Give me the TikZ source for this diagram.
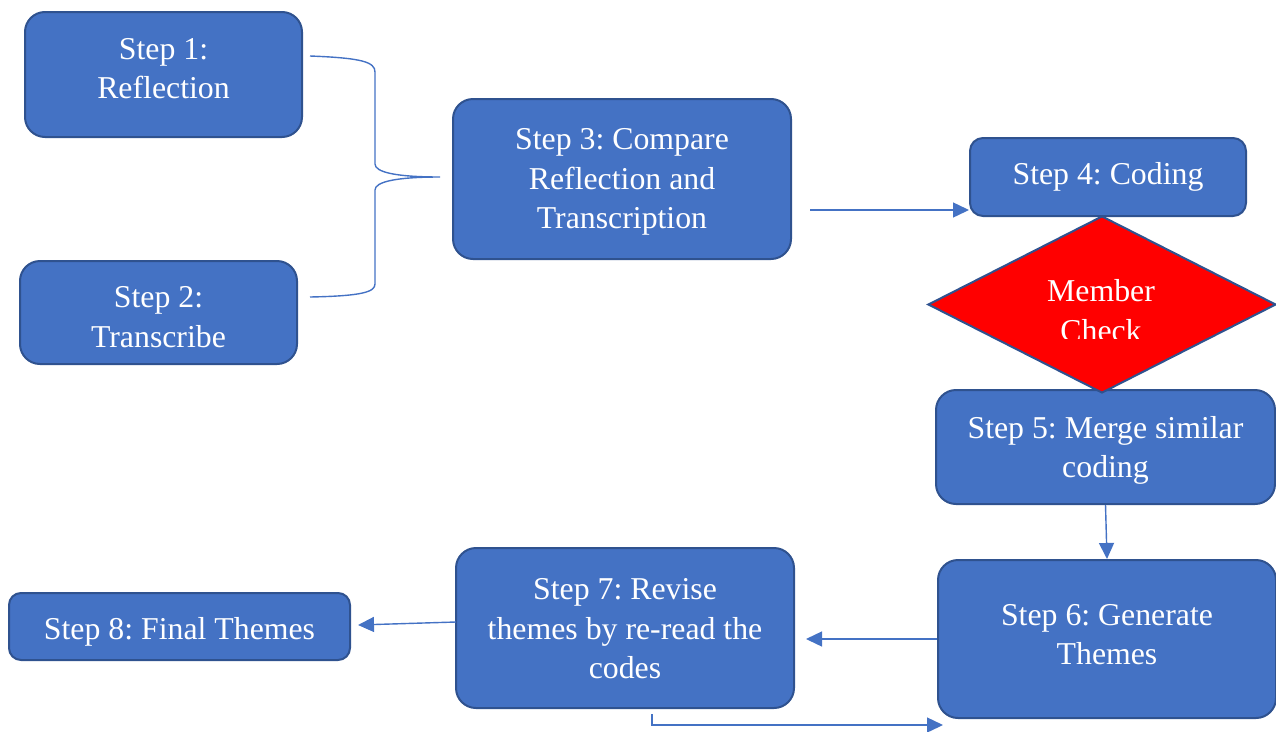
\documentclass[tikz,border=0pt]{standalone}
\usepackage{fontspec}
\setmainfont{Liberation Serif}
\usetikzlibrary{arrows.meta,shapes.geometric}
\definecolor{boxblue}{HTML}{4472C4}
\definecolor{boxedge}{HTML}{2F528F}
\definecolor{linkblue}{HTML}{4472C4}
\tikzset{
  stepbox/.style={draw=boxedge, line width=2pt, fill=boxblue, rounded corners=20pt, inner sep=0pt},
  steptext/.style={text=white, align=center, inner sep=0pt,
    font=\frenchspacing\fontsize{31.8}{39.5}\selectfont},
  checkshape/.style={shape=diamond, draw=boxedge, line width=2pt, fill=red, inner sep=0pt},
  link/.style={draw=linkblue, line width=1.4pt, -{Triangle[length=16pt,width=15pt]}},
  bracket/.style={draw=linkblue, line width=1.4pt},
}
\begin{document}
\begin{tikzpicture}[x=1pt,y=-1pt]
\useasboundingbox (0,0) rectangle (1276,731);

% process steps: box, then its caption
\node[stepbox, minimum width=277pt, minimum height=125pt] (s1) at (163.5,74.5) {};
\node[steptext] (s1t) at ([yshift=6pt]s1.center) {Step 1:\\Reflection};
\node[stepbox, minimum width=277pt, minimum height=103pt] (s2) at (158.5,312.5) {};
\node[steptext] (s2t) at ([yshift=-4.5pt]s2.center) {Step 2:\\Transcribe};
\node[stepbox, minimum width=338pt, minimum height=160pt] (s3) at (622,179) {};
\node[steptext] (s3t) at ([yshift=-3pt]s3.center) {Step 3: Compare\\Reflection and\\Transcription};
\node[stepbox, rounded corners=13pt, minimum width=276pt, minimum height=78pt] (s4) at (1108,177) {};
\node[steptext] (s4t) at (s4.center) {Step 4: Coding};
\node[stepbox, minimum width=339pt, minimum height=114pt] (s5) at (1105.5,447) {};
\node[steptext] (s5t) at ([yshift=-3.5pt]s5.center) {Step 5: Merge similar\\coding};
\node[stepbox, minimum width=338pt, minimum height=158pt] (s6) at (1107,639) {};
\node[steptext] (s6t) at ([yshift=4.5pt]s6.center) {Step 6: Generate\\Themes};
\node[stepbox, minimum width=338pt, minimum height=160pt] (s7) at (625,628) {};
\node[steptext] (s7t) at ([yshift=-1pt]s7.center) {Step 7: Revise\\themes by re-read the\\codes};
\node[stepbox, rounded corners=12pt, minimum width=341pt, minimum height=67pt] (s8) at (179.5,626.5) {};
\node[steptext] (s8t) at ([yshift=-5pt]s8.center) {Step 8: Final Themes};

% member check decision
\node[checkshape, minimum width=348pt, minimum height=177pt] (mc) at (1102,304.5) {};
\begin{scope}
  \clip (930,250) rectangle (1276,338);
  \node[steptext] (mct) at (1101,310.5) {Member\\Check};
\end{scope}

% bracket joining steps 1 and 2 into step 3
\coordinate (b1) at (310,56);
\coordinate (b2) at (310,297);
\coordinate (bm) at (440,177);
\draw[bracket] (b1) .. controls (362,58) and (375,62) .. (375,72)
  -- (375,164) .. controls (375,172) and (395,177) .. (bm)
  .. controls (395,177) and (375,182) .. (375,190)
  -- (375,284) .. controls (375,292) and (362,296) .. (b2);

% connectors
\coordinate (a3) at (810,210);
\draw[link] (a3) -- (a3 -| s4.west);
\draw[link] (s5.south) -- (s6.north);
\coordinate (a6) at (806,639);
\draw[link] (s6.west) -- (a6);
\coordinate (a7s) at (456,622);
\coordinate (a7e) at (358,625);
\draw[link] (a7s) -- (a7e);
\coordinate (r1) at (652,714);
\coordinate (r2) at (943,725);
\draw[link] (r1) |- (r2);
\end{tikzpicture}
\end{document}
